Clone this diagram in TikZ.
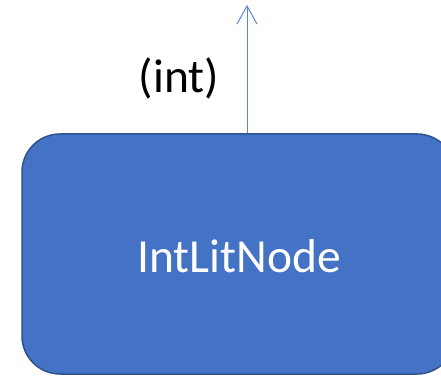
\documentclass[tikz,border=0pt]{standalone}
\usepackage{fontspec}
\setmainfont{Carlito}
\usetikzlibrary{arrows.meta}
\definecolor{boxfill}{HTML}{4472C4}
\definecolor{boxline}{HTML}{2F528F}
\definecolor{arrowcol}{HTML}{5B86CF}
\begin{document}
\begin{tikzpicture}[x=1pt,y=1pt,
  nodebox/.style={draw=boxline, fill=boxfill, line width=1.5pt, rounded corners=38pt,
    minimum width=433pt, minimum height=240pt, inner sep=0pt},
  bigtext/.style={font=\fontsize{47.5}{56}\selectfont},
  link/.style={draw=arrowcol, line width=1pt, -{Straight Barb[length=18pt,width=20pt,line width=1pt]}}]
\useasboundingbox (0,0) rectangle (441,375);
\clip (0,0) rectangle (441,375);
\node[nodebox] (box) at (238.5,121) {};
\node[bigtext, text=white, anchor=base] (lbl) at (239,103) {IntLitNode};
\coordinate (tip) at (247,370);
\draw[link] (box.north -| tip) -- (tip);
\node[bigtext, text=black, anchor=base] (intlbl) at (179,282) {(int)};
\end{tikzpicture}
\end{document}
